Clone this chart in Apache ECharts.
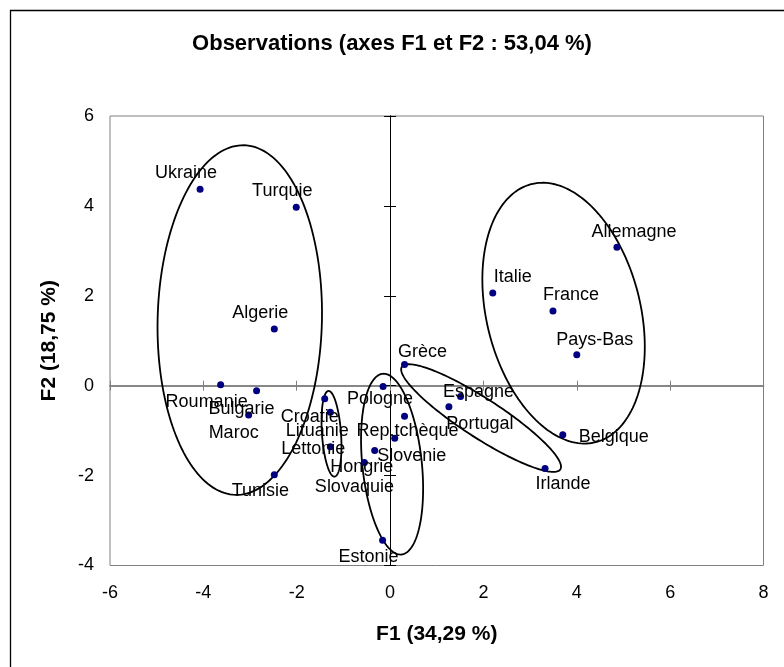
<!DOCTYPE html>
<html><head><meta charset="utf-8">
<script src="https://cdn.jsdelivr.net/npm/echarts@6/dist/echarts.min.js"></script>
<style>html,body{margin:0;padding:0;background:#fff}#c{width:784px;height:667px}</style>
</head><body><div id="c"></div>
<script>
// ---- data ----
const countries = ['Ukraine','Turquie','Algerie','Roumanie','Bulgarie','Maroc','Tunisie','Croatie','Lituanie','Lettonie','Pologne','Rep.tchèque','Slovenie','Hongrie','Slovaquie','Estonie','Grèce','Espagne','Portugal','Irlande','Belgique','Pays-Bas','France','Italie','Allemagne'];
const f1 = [-4.07,-2.01,-2.48,-3.63,-2.86,-3.03,-2.48,-1.40,-1.28,-1.28,-0.15,0.31,0.10,-0.33,-0.55,-0.16,0.31,1.51,1.26,3.32,3.70,4.00,3.49,2.20,4.86];
const f2 = [4.37,3.97,1.26,0.02,-0.11,-0.65,-1.98,-0.29,-0.59,-1.36,-0.02,-0.68,-1.17,-1.44,-1.71,-3.44,0.47,-0.24,-0.47,-1.84,-1.09,0.69,1.66,2.06,3.08];
// confidence ellipses (data units): centre, semi-axis along angle, semi-axis across, angle (deg)
const ellipseCX = [-3.22,-1.255,0.043,1.95,3.717];
const ellipseCY = [1.46,-1.07,-1.745,-0.72,1.614];
const ellipseA = [3.89,0.955,2.02,2.045,2.952];
const ellipseB = [1.76,0.204,0.637,0.43,1.652];
const ellipseAngle = [88.7,93.9,95.7,-34,102.9];
const xTicks = {min:-6,max:8,step:2};
const yTicks = {min:-4,max:6,step:2};
// label placement (pixel offsets of label centre from point) - styling only
const labelOffset = [[-14,-16],[-14,-16],[-14,-16],[-14,17],[-15,18],[-15,18],[-14,16],[-15,18],[-13,19],[-17,2],[-3,12],[3,15],[17,18],[-13,17],[-10,24],[-14,17],[18,-13],[18,-4],[31,17],[18,16],[51,2],[18,-15],[18,-16],[20,-16],[17,-15]];

const FONT = "'Liberation Sans', Arial, sans-serif";
const SYM = 7;
const chart = echarts.init(document.getElementById('c'), null, {renderer:'canvas'});

const baseX = {type:'value', min:xTicks.min, max:xTicks.max, interval:xTicks.step, splitLine:{show:false}};
const baseY = {type:'value', min:yTicks.min, max:yTicks.max, interval:yTicks.step, splitLine:{show:false}};

const option = {
  backgroundColor:'#fff',
  animation:false,
  title:{text:'Observations (axes F1 et F2 : 53,04 %)', left:'center', top:33, padding:0,
    textStyle:{fontFamily:FONT, fontSize:22, fontWeight:'bold', color:'#000'}},
  graphic:[{type:'rect', shape:{x:10.5,y:10.5,width:800,height:700}, style:{fill:'none', stroke:'#000', lineWidth:1.3}, silent:true}],
  grid:{left:110, top:116, width:653.5, height:449.5, show:true, borderColor:'#808080', borderWidth:1, backgroundColor:'transparent'},
  xAxis:[
    Object.assign({}, baseX, {position:'bottom', axisLine:{show:false, onZero:false}, axisTick:{show:false},
      axisLabel:{fontFamily:FONT, fontSize:18, color:'#000', margin:19},
      name:'F1 (34,29 %)', nameLocation:'middle', nameGap:58,
      nameTextStyle:{fontFamily:FONT, fontSize:21, fontWeight:'bold', color:'#000'}}),
    Object.assign({}, baseX, {position:'bottom', axisLine:{show:true, onZero:true, onZeroAxisIndex:0, lineStyle:{color:'#808080', width:1.5}},
      axisTick:{show:true, inside:false, length:5, lineStyle:{color:'#808080', width:1}}, axisLabel:{show:false}}),
    Object.assign({}, baseX, {position:'top', axisLine:{show:true, onZero:true, onZeroAxisIndex:0, lineStyle:{color:'#808080', width:1.5}},
      axisTick:{show:true, inside:false, length:5, lineStyle:{color:'#808080', width:1}}, axisLabel:{show:false}})
  ],
  yAxis:[
    Object.assign({}, baseY, {position:'left', axisLine:{show:false, onZero:false}, axisTick:{show:false},
      axisLabel:{fontFamily:FONT, fontSize:18, color:'#000', margin:16},
      name:'F2 (18,75 %)', nameLocation:'middle', nameGap:50, nameRotate:90,
      nameTextStyle:{fontFamily:FONT, fontSize:21, fontWeight:'bold', color:'#000'}}),
    Object.assign({}, baseY, {position:'left', axisLine:{show:true, onZero:true, onZeroAxisIndex:0, lineStyle:{color:'#000', width:1}},
      axisTick:{show:true, inside:false, length:6, lineStyle:{color:'#000', width:1}}, axisLabel:{show:false}}),
    Object.assign({}, baseY, {position:'right', axisLine:{show:true, onZero:true, onZeroAxisIndex:0, lineStyle:{color:'#000', width:1}},
      axisTick:{show:true, inside:false, length:6, lineStyle:{color:'#000', width:1}}, axisLabel:{show:false}})
  ],
  series:[
    {
      type:'custom', xAxisIndex:0, yAxisIndex:0, silent:true, z:2,
      data: ellipseCX.map((c,i)=>[c, ellipseCY[i], ellipseA[i], ellipseB[i], ellipseAngle[i]]),
      encode:{x:0, y:1},
      renderItem:function(params, api){
        const cx=api.value(0), cy=api.value(1), a=api.value(2), b=api.value(3), th=api.value(4)*Math.PI/180;
        const pts=[];
        for(let k=0;k<=180;k++){
          const t=k*2*Math.PI/180;
          const dx=a*Math.cos(t), dy=b*Math.sin(t);
          pts.push(api.coord([cx+dx*Math.cos(th)-dy*Math.sin(th), cy+dx*Math.sin(th)+dy*Math.cos(th)]));
        }
        return {type:'polyline', shape:{points:pts}, style:{fill:null, stroke:'#000', lineWidth:1.8}};
      }
    },
    {
      type:'scatter', xAxisIndex:0, yAxisIndex:0, z:3,
      symbol:'circle', symbolSize:SYM,
      itemStyle:{color:'#000080', opacity:1},
      label:{show:true, formatter:'{b}', fontFamily:FONT, fontSize:18, color:'#000', opacity:1,
        align:'center', verticalAlign:'middle', textBorderWidth:0},
      data: countries.map((n,i)=>({name:n, value:[f1[i], f2[i]],
        label:{position:[SYM/2+labelOffset[i][0], SYM/2+labelOffset[i][1]]}})),
      labelLayout:{hideOverlap:false}
    }
  ]
};
chart.setOption(option);
</script></body></html>
